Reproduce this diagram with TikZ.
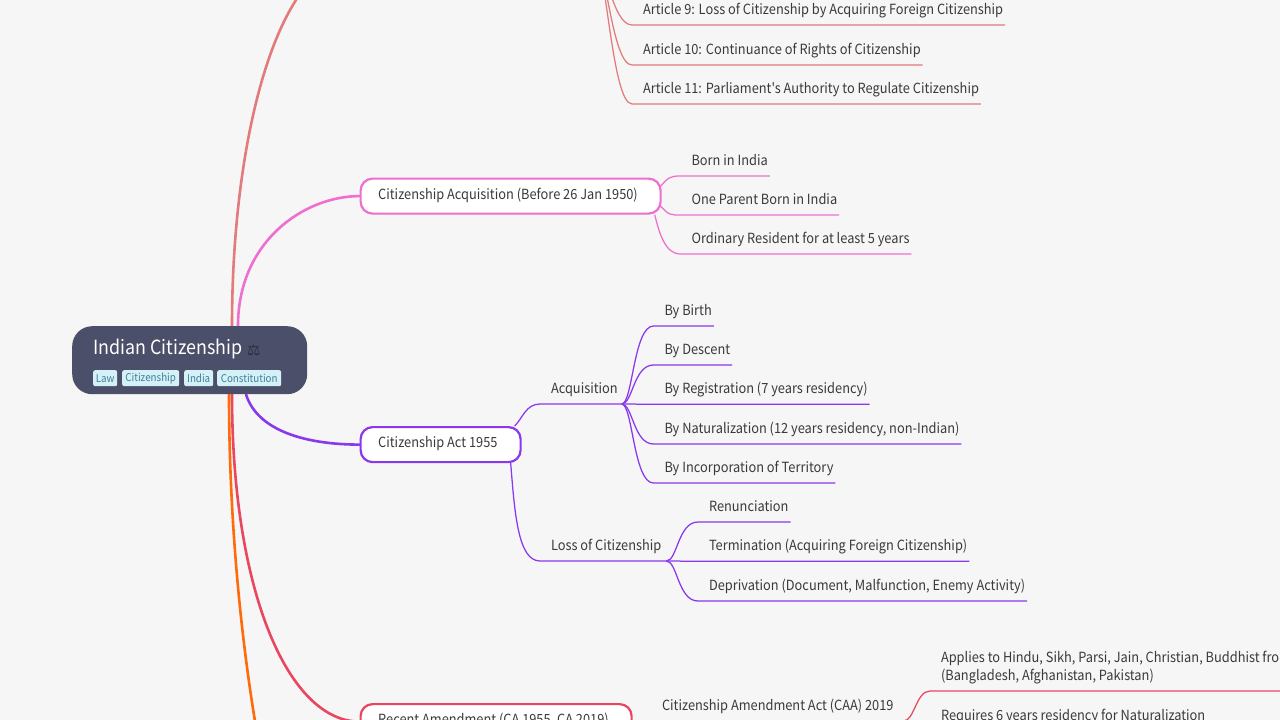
\documentclass[tikz,border=0pt]{standalone}
\usepackage{fontspec}
\setmainfont{Noto Sans CJK SC}[FakeStretch=0.915,Ligatures=TeXOff]
\newfontfamily\emofont{DejaVu Sans}
\usetikzlibrary{backgrounds}
\definecolor{bgc}{HTML}{F6F6F6}
\definecolor{rootc}{HTML}{4C4F69}
\definecolor{tagc}{HTML}{D5F1F8}
\definecolor{tagt}{HTML}{3E7F95}
\definecolor{txtc}{HTML}{3A3A3A}
\definecolor{salmon}{HTML}{E27B7B}
\definecolor{pinkc}{HTML}{EE6FCF}
\definecolor{purp}{HTML}{8A38EE}
\definecolor{redc}{HTML}{E8475F}
\definecolor{orangec}{HTML}{FF6A0A}
\newcommand{\txtfont}{\fontsize{14}{18}\selectfont}
\tikzset{
  x=1pt,y=-1pt,
  leafnode/.style={anchor=south west,inner sep=0pt,outer sep=0pt,text=txtc,text depth=10.5pt,
    font=\txtfont,
    execute at begin node=\hspace*{11pt},execute at end node=\hspace*{#1pt}},
  leafnode/.default=2,
  branch/.style={rounded corners=12pt,draw=#1,line width=2.2pt,fill=white,anchor=north west,
    minimum height=35pt,inner sep=0pt},
  branchtext/.style={anchor=west,inner sep=0pt,text=txtc,font=\txtfont},
  tag/.style={fill=tagc,rounded corners=2pt,text=tagt,inner sep=0pt,anchor=north west,minimum height=16pt,
    font=\fontsize{10.7}{13}\selectfont},
  main/.style={draw=#1,line width=2.6pt,line cap=round},
  sub/.style={draw=#1,line width=1.25pt}
}
\newcommand{\lk}[3]{\draw[sub=#1] (#2) .. controls +(11,0) and +(-20,0) .. (#3.south west) -- (#3.south east);}
\begin{document}
\begin{tikzpicture}
\useasboundingbox (0,0) rectangle (1280,720);
\clip (0,0) rectangle (1280,720);
% root
\node[fill=rootc,rounded corners=20pt,anchor=north west,minimum width=235pt,minimum height=68pt,inner sep=0pt] (root) at (72,326) {};
\node[anchor=base west,inner sep=0pt,text=white,font=\fontsize{19.5}{24}\selectfont] (title) at (93,354.500) {Indian Citizenship};
\node[anchor=base west,inner sep=0pt,text=rootc!55!black,font=\emofont\fontsize{15}{16}\selectfont] (scale) at (247,355) {⚖};
\node[tag,minimum width=24pt] (t1) at (93,370) {Law};
\node[tag,minimum width=57pt] (t2) at (122,370) {Citizenship};
\node[tag,minimum width=29pt] (t3) at (184,370) {India};
\node[tag,minimum width=64pt] (t4) at (217,370) {Constitution};
% branches
\node[branch=pinkc,minimum width=300pt] (acq) at (359.500,177.500) {};
\node[branchtext] (acqt) at (378,195) {Citizenship Acquisition (Before 26 Jan 1950)};
\node[branch=purp,minimum width=160pt] (act) at (359.500,426) {};
\node[branchtext] (actt) at (378,444) {Citizenship Act 1955};
\node[branch=redc,minimum width=271pt] (rec) at (359.500,703) {};
\node[branchtext] (rect) at (378,720.500) {Recent Amendment (CA 1955, CA 2019)};
% off-canvas points
\coordinate (topb) at (352,-40);
\coordinate (arts) at (595,-40);
\coordinate (lowb) at (275,820);
% leaves
\node[leafnode] (a9) at (632,25) {Article 9: Loss of Citizenship by Acquiring Foreign Citizenship};
\node[leafnode] (a10) at (632,65) {Article 10: Continuance of Rights of Citizenship};
\node[leafnode] (a11) at (632,104) {Article 11: Parliament's Authority to Regulate Citizenship};
\node[leafnode] (p1) at (680.500,176) {Born in India};
\node[leafnode] (p2) at (680.500,215) {One Parent Born in India};
\node[leafnode] (p3) at (680.500,254) {Ordinary Resident for at least 5 years};
\node[leafnode=4] (acqn) at (540,404) {Acquisition};
\node[leafnode=5] (loss) at (540,561) {Loss of Citizenship};
\node[leafnode] (b1) at (653.500,326) {By Birth};
\node[leafnode] (b2) at (653.500,365) {By Descent};
\node[leafnode] (b3) at (653.500,404.200) {By Registration (7 years residency)};
\node[leafnode] (b4) at (653.500,444) {By Naturalization (12 years residency, non-Indian)};
\node[leafnode] (b5) at (653.500,483) {By Incorporation of Territory};
\node[leafnode] (l1) at (698,522) {Renunciation};
\node[leafnode] (l2) at (698,561.200) {Termination (Acquiring Foreign Citizenship)};
\node[leafnode] (l3) at (698,601) {Deprivation (Document, Malfunction, Enemy Activity)};
\node[leafnode=10] (caa) at (651,721) {Citizenship Amendment Act (CAA) 2019};
\node[leafnode] (ap) at (930,691) {\parbox[b]{420pt}{Applies to Hindu, Sikh, Parsi, Jain, Christian, Buddhist from\\(Bangladesh, Afghanistan, Pakistan)}};
\node[leafnode] (req) at (930,731) {Requires 6 years residency for Naturalization};
\begin{scope}[on background layer]
\fill[bgc] (0,0) rectangle (1280,720);
\draw[main=salmon] ([xshift=160pt]root.north west) .. controls +(0,-200) and +(-70,0) .. (topb);
\draw[main=pinkc] ([xshift=166pt]root.north west) .. controls +(0,-85) and +(-55,0) .. (acq.west);
\draw[main=purp] ([xshift=174pt]root.south west) .. controls +(12,38) and +(-50,0) .. (act.west);
\draw[main=redc] ([xshift=160pt]root.south west) .. controls +(0,200) and +(-70,0) .. (rec.west);
\draw[main=orangec] ([xshift=157pt]root.south west) .. controls (229,560) and (250,720) .. (lowb);
\foreach \n in {a9,a10,a11}{\lk{salmon}{arts}{\n}}
\draw[sub=pinkc] ([xshift=-1pt,yshift=10pt]acq.east) .. controls +(8,-9) and +(-10,0) .. (p1.south west) -- (p1.south east);
\draw[sub=pinkc] ([xshift=-1pt,yshift=-10pt]acq.east) .. controls +(8,9) and +(-10,0) .. (p2.south west) -- (p2.south east);
\draw[sub=pinkc] ([xshift=-7pt]acq.south east) .. controls +(5,20) and +(-15,0) .. (p3.south west) -- (p3.south east);
\draw[sub=purp] ([xshift=-7pt]act.north east) .. controls +(8,-8) and +(-14,0) .. (acqn.south west) -- (acqn.south east);
\draw[sub=purp] ([xshift=-11pt]act.south east) .. controls +(4,50) and +(-22,0) .. (loss.south west) -- (loss.south east);
\foreach \n in {b1,b2,b3,b4,b5}{\lk{purp}{acqn.south east}{\n}}
\foreach \n in {l1,l2,l3}{\lk{purp}{loss.south east}{\n}}
\draw[sub=redc] (rec.east) -- (caa.south west) -- (caa.south east);
\draw[sub=redc] (caa.south east) .. controls +(11,0) and +(-14,0) .. (ap.south west) -- (ap.south east);
\draw[sub=redc] (caa.south east) .. controls +(11,0) and +(-14,0) .. (req.south west) -- (req.south east);
\end{scope}
\end{tikzpicture}
\end{document}
